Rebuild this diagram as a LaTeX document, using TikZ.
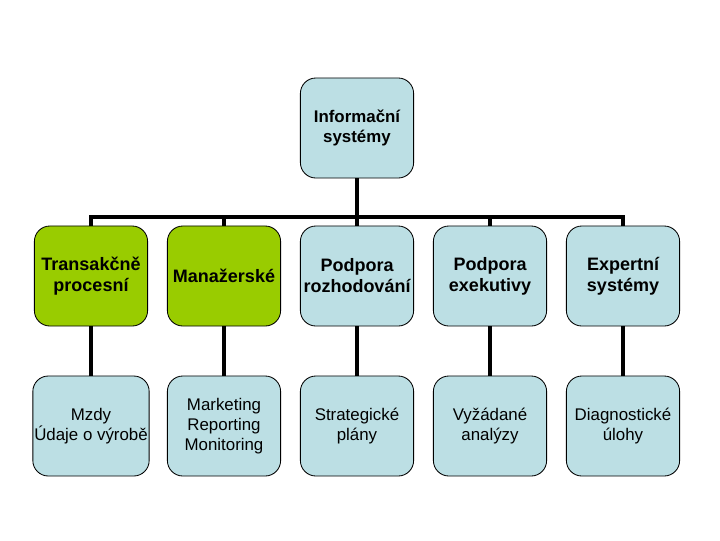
\documentclass[tikz,border=0pt]{standalone}
\usepackage{fontspec}
\setmainfont{Liberation Sans}
\definecolor{boxblue}{RGB}{188,223,228}
\definecolor{boxgreen}{RGB}{153,204,0}
\tikzset{
  box/.style={draw=black, line width=0.6pt, fill=boxblue, rounded corners=11pt,
    minimum width=2.83cm, minimum height=2.5cm, align=center,
    font=\fontsize{12}{14}\selectfont, inner sep=1pt},
  greenbox/.style={box, fill=boxgreen},
  topbox/.style={box, font=\fontsize{12.8}{15}\selectfont\bfseries},
  conn/.style={line width=2.6pt}
}
\begin{document}
\begin{tikzpicture}[x=0.025cm,y=-0.025cm]
\useasboundingbox (0,0) rectangle (720,540);
% root
\node[box, font=\fontsize{12}{14.5}\selectfont\bfseries] (root) at (357,128) {Informační\\systémy};
\coordinate (bar) at (357,217);
% first row
\node[topbox, fill=boxgreen] (t1) at (91,276) {Transakčně\\procesní};
\node[topbox, fill=boxgreen] (t2) at (224,276) {Manažerské};
\node[topbox] (t3) at (357,276) {Podpora\\rozhodování};
\node[topbox] (t4) at (490,276) {Podpora\\exekutivy};
\node[topbox] (t5) at (623,276) {Expertní\\systémy};
% second row
\node[box] (b1) at (91,426) {Mzdy\\Údaje o výrobě};
\node[box] (b2) at (224,426) {Marketing\\Reporting\\Monitoring};
\node[box] (b3) at (357,426) {Strategické\\plány};
\node[box] (b4) at (490,426) {Vyžádané\\analýzy};
\node[box] (b5) at (623,426) {Diagnostické\\úlohy};
\foreach \i in {1,2,...,5} {
  \draw[conn] (root.south) -- (bar) -| (t\i.north);
  \draw[conn] (t\i.south) -- (b\i.north);
}
\end{tikzpicture}
\end{document}
